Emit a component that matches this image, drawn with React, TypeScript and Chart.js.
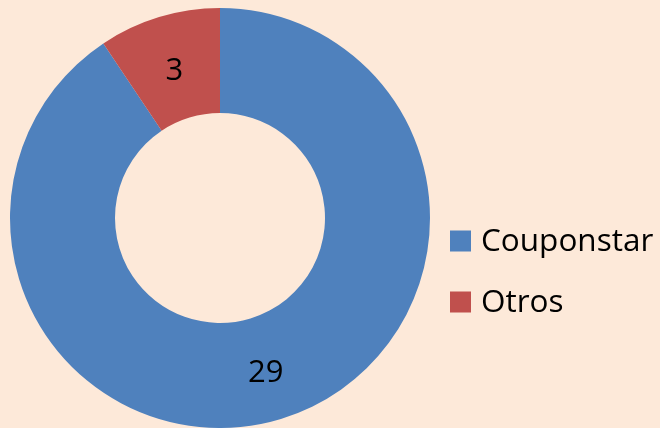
import React, { useEffect, useRef } from "react";
import { Chart, registerables } from "chart.js";

Chart.register(...registerables);

const categories = ["Couponstar", "Otros"];
const values = [29, 3];
const colors = ["#4F81BD", "#C0504D"];
const BG = "#FDE9D9";
const FONT = "'Open Sans', sans-serif";

const bgPlugin = {
  id: "bg",
  beforeDraw(chart: any) {
    const { ctx, width, height } = chart;
    ctx.save();
    ctx.fillStyle = BG;
    ctx.fillRect(0, 0, width, height);
    ctx.restore();
  },
};

const labelPlugin = {
  id: "labels",
  afterDatasetsDraw(chart: any) {
    const { ctx } = chart;
    const meta = chart.getDatasetMeta(0);
    ctx.save();
    ctx.fillStyle = "#000";
    ctx.font = `31px ${FONT}`;
    ctx.textAlign = "center";
    ctx.textBaseline = "middle";
    meta.data.forEach((arc: any, i: number) => {
      const p = arc.tooltipPosition();
      ctx.fillText(String(values[i]), p.x, p.y + 4);
    });
    // legend
    ctx.textAlign = "left";
    ctx.font = `31.5px ${FONT}`;
    const lx = 450;
    const ys = [241, 302];
    categories.forEach((c, i) => {
      ctx.fillStyle = colors[i];
      ctx.fillRect(lx, ys[i] - 10.5, 21, 21);
      ctx.fillStyle = "#000";
      ctx.fillText(c, lx + 31, ys[i] + 1);
    });
    ctx.restore();
  },
};

export default function App() {
  const ref = useRef<HTMLCanvasElement | null>(null);
  useEffect(() => {
    document.body.style.margin = "0";
    const chart = new Chart(ref.current!, {
      type: "doughnut",
      data: {
        labels: categories,
        datasets: [
          {
            data: values,
            backgroundColor: colors,
            borderWidth: 0,
          },
        ],
      },
      options: {
        animation: false,
        responsive: false,
        cutout: "50%",
        layout: { padding: { left: 10, right: 230, top: 8, bottom: 0 } },
        plugins: {
          legend: { display: false },
          tooltip: { enabled: false },
        },
      },
      plugins: [bgPlugin, labelPlugin],
    });
    return () => chart.destroy();
  }, []);
  return (
    <div style={{ width: 660, height: 428, background: BG }}>
      <canvas ref={ref} width={660} height={428} />
    </div>
  );
}
